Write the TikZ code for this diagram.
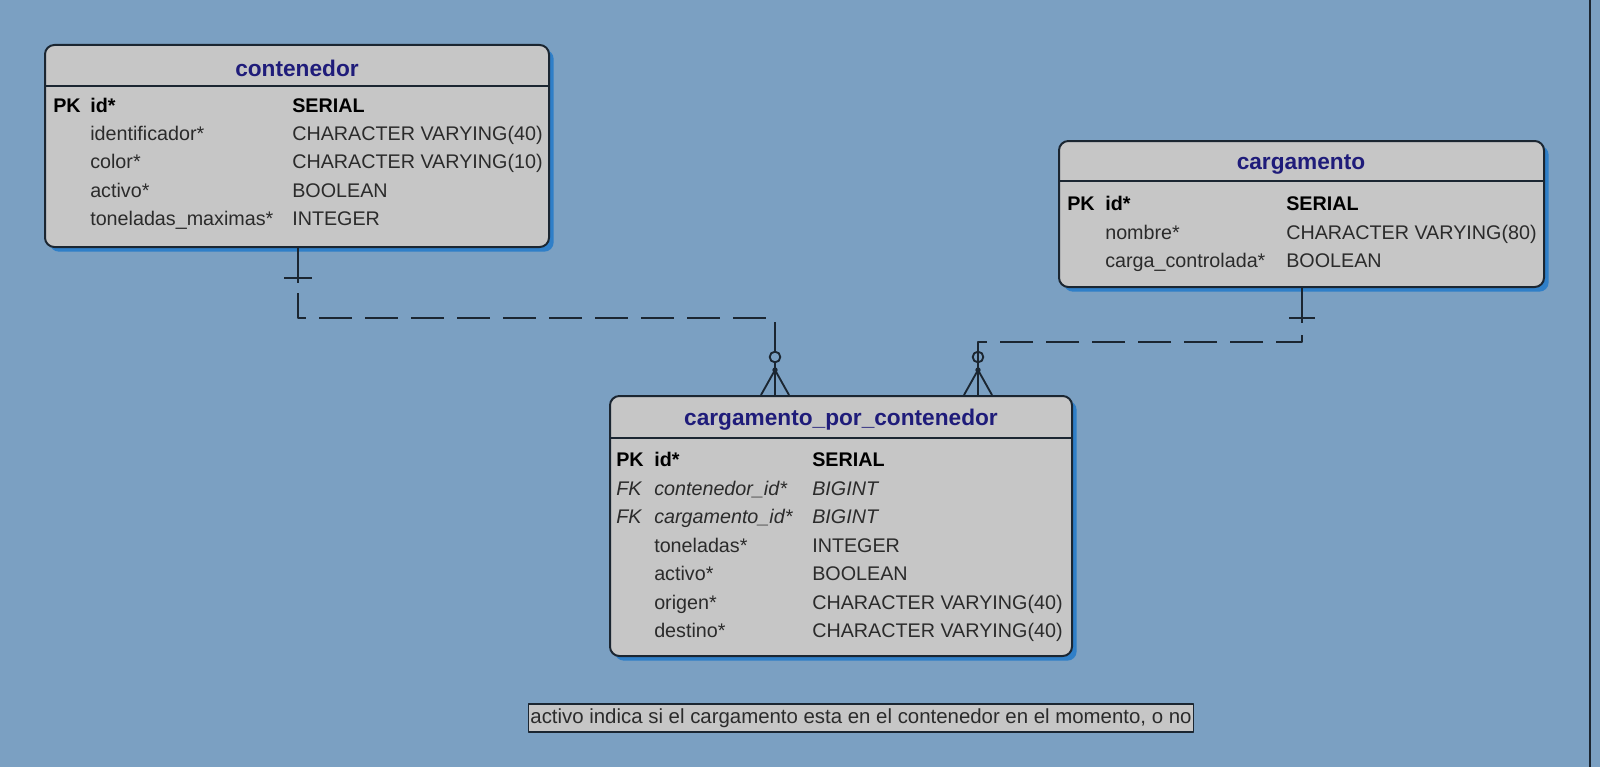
\documentclass[tikz,border=0pt]{standalone}
\usepackage{fontspec}
\setmainfont{Liberation Sans}
\usetikzlibrary{positioning,fit,shadows,calc}
\definecolor{Canvas}{HTML}{7BA0C2}
\definecolor{Ink}{HTML}{1B2631}
\definecolor{Slab}{HTML}{C6C6C6}
\definecolor{Glow}{HTML}{2F7FC8}
\definecolor{Navy}{HTML}{1F1C7A}
\definecolor{Txt}{HTML}{2B2B2B}
\tikzset{
  tbl/.style={draw=Ink,line width=1.5pt,rounded corners=7pt,fill=Slab,inner sep=0pt,
    drop shadow={shadow xshift=3.5pt,shadow yshift=-3.5pt,fill=Glow,opacity=1}},
  rule/.style={draw=Ink,line width=1.3pt},
  ttl/.style={font=\fontsize{17}{19}\selectfont\bfseries,text=Navy,inner sep=0pt},
  key/.style={font=\fontsize{14.8}{16}\selectfont\bfseries,text=black,anchor=mid west,inner sep=0pt},
  fld/.style={font=\fontsize{14.8}{16}\selectfont,text=Txt,anchor=mid west,inner sep=0pt},
  fk/.style={fld,font=\fontsize{14.8}{16}\selectfont\itshape},
  rel/.style={draw=Ink,line width=1.4pt},
  opt/.style={rel,dash pattern=on 24.75pt off 9.75pt},
  memo/.style={draw=Ink,line width=1.3pt,fill=Slab,inner xsep=1.5pt,inner ysep=3.2pt,
    font=\fontsize{15.3}{17}\selectfont,text=Txt},
}
\begin{document}
\begin{tikzpicture}[x=0.75pt,y=-0.75pt,line join=round]
\useasboundingbox (0,0) rectangle (1600,767);
\fill[Canvas] (0,0) rectangle (1600,767);
\draw[Ink,line width=1.5pt] (1590,0) -- (1590,767);

% tables
\node[tbl,fit={(45,45) (549,247)}] (contenedor) {};
\node[tbl,fit={(1059,141) (1544,287)}] (cargamento) {};
\node[tbl,fit={(610,396) (1072,656)}] (cpc) {};
\draw[rule] (contenedor.west |- 0,86) -- (contenedor.east |- 0,86);
\draw[rule] (cargamento.west |- 0,181) -- (cargamento.east |- 0,181);
\draw[rule] (cpc.west |- 0,438) -- (cpc.east |- 0,438);

% contenedor
\node[ttl] (c-title) at (297,68) {contenedor};
\node[key] (c-pk) at (53,109) {PK};
\node[key] (c-id) at (90,109) {id*};
\node[key] (c-idt) at (292,109) {SERIAL};
\foreach \n/\t [count=\i] in {identificador*/CHARACTER VARYING(40),color*/CHARACTER VARYING(10),
    activo*/BOOLEAN,toneladas\_maximas*/INTEGER}{
  \node[fld] (c-n\i) at (90,{109+28.2*\i}) {\n};
  \node[fld] (c-t\i) at (292,{109+28.2*\i}) {\t};
}

% cargamento
\node[ttl] (g-title) at (1301,165) {cargamento};
\node[key] (g-pk) at (1067,207) {PK};
\node[key] (g-id) at (1105,207) {id*};
\node[key] (g-idt) at (1286,207) {SERIAL};
\foreach \n/\t [count=\i] in {nombre*/CHARACTER VARYING(80),carga\_controlada*/BOOLEAN}{
  \node[fld] (g-n\i) at (1105,{207+28.5*\i}) {\n};
  \node[fld] (g-t\i) at (1286,{207+28.5*\i}) {\t};
}

% cargamento_por_contenedor
\node[ttl] (p-title) at (841,420) {cargamento\_por\_contenedor};
\node[key] (p-pk) at (616,463) {PK};
\node[key] (p-id) at (654,463) {id*};
\node[key] (p-idt) at (812,463) {SERIAL};
\foreach \n [count=\i] in {contenedor\_id*,cargamento\_id*}{
  \node[fk] (p-fk\i) at (616,{463+28.5*\i}) {FK};
  \node[fk] (p-f\i) at (654,{463+28.5*\i}) {\n};
  \node[fk] (p-ft\i) at (812,{463+28.5*\i}) {BIGINT};
}
\foreach \n/\t [count=\i from 3] in {toneladas*/INTEGER,activo*/BOOLEAN,
    origen*/CHARACTER VARYING(40),destino*/CHARACTER VARYING(40)}{
  \node[fld] (p-n\i) at (654,{463+28.5*\i}) {\n};
  \node[fld] (p-t\i) at (812,{463+28.5*\i}) {\t};
}

\node[memo] (nota) at (861,718) {activo indica si el cargamento esta en el contenedor en el momento, o no};

% relations
\coordinate (c-tick) at (298,278);
\coordinate (c-turn) at (298,318);
\coordinate (p-turn) at (775,318);
\coordinate (p-ring) at (775,357);
\coordinate (g-tick) at (1302,318);
\coordinate (g-turn) at (1302,342);
\coordinate (q-turn) at (978,342);
\coordinate (q-ring) at (978,357);

\draw[rel] (contenedor.south -| c-tick) -- ($(c-tick)+(0,5)$);
\draw[rel] ($(c-tick)+(-14,0)$) -- ($(c-tick)+(14,0)$);
\draw[opt] ($(c-tick)+(0,15)$) -- (c-turn) -- (p-turn) -- ($(p-ring)+(0,-5)$);

\draw[rel] (cargamento.south -| g-tick) -- ($(g-tick)+(0,5)$);
\draw[rel] ($(g-tick)+(-13,0)$) -- ($(g-tick)+(13,0)$);
\draw[opt] ($(g-tick)+(0,17)$) -- (g-turn) -- (q-turn) -- ($(q-ring)+(0,-5)$);
\draw[rel] ($(q-ring)+(0,-5)$) -- ($(q-ring)+(0,5)$);

\foreach \r in {p-ring,q-ring}{
  \draw[rel] (\r) circle[radius=4pt];
  \draw[rel] ($(\r)+(0,5)$) -- (cpc.north -| \r);
  \fill[Ink] ($(\r)+(0,13)$) circle[radius=2pt];
  \draw[rel] ($(cpc.north -| \r)+(-14,0)$) -- ($(\r)+(0,13)$) -- ($(cpc.north -| \r)+(14,0)$);
}
\end{tikzpicture}
\end{document}
